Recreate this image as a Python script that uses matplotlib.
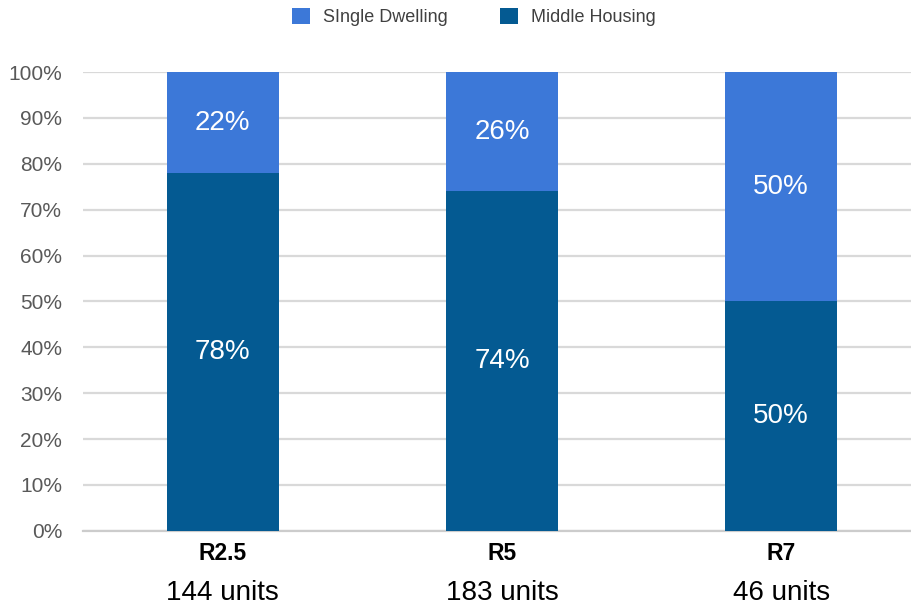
import matplotlib.pyplot as plt
from matplotlib.patches import Patch
import numpy as np

plt.rcParams['font.family'] = ['Liberation Sans', 'DejaVu Sans']

# zoning categories and their unit counts
zones = ['R2.5', 'R5', 'R7']
units = ['144 units', '183 units', '46 units']

# share of units by type (percent)
middle_housing = [78, 74, 50]
single_dwelling = [22, 26, 50]

light_blue = '#3c78d8'
dark_blue = '#045a92'
grid_grey = '#d9d9d9'

fig = plt.figure(figsize=(9.11, 6.06), dpi=100)
ax = fig.add_axes([0.091, 0.124, 0.909, 0.757])

x = np.arange(len(zones))
width = 0.4

ax.bar(x, middle_housing, width, color=dark_blue, zorder=3)
ax.bar(x, single_dwelling, width, bottom=middle_housing, color=light_blue, zorder=3)

# percentage labels in the middle of each segment
for i in range(len(zones)):
    ax.text(x[i], middle_housing[i] / 2, f'{middle_housing[i]}%', color='white',
            fontsize=20, ha='center', va='center', zorder=4)
    ax.text(x[i], middle_housing[i] + single_dwelling[i] / 2, f'{single_dwelling[i]}%',
            color='white', fontsize=20, ha='center', va='center', zorder=4)

ax.set_ylim(0, 100)
ax.set_xlim(-0.501, 2.465)
ax.set_yticks(np.arange(0, 101, 10))
ax.set_yticklabels([f'{v}%' for v in range(0, 101, 10)])
ax.tick_params(axis='y', length=0, pad=15, labelsize=15, labelcolor='#595959')
ax.set_xticks(x)
ax.set_xticklabels([])
ax.tick_params(axis='x', length=0)

ax.yaxis.grid(True, color=grid_grey, linewidth=1.6, zorder=0)
for side in ['left', 'right', 'top']:
    ax.spines[side].set_visible(False)
ax.spines['bottom'].set_color('#cccccc')
ax.spines['bottom'].set_linewidth(1.6)
ax.spines['bottom'].set_zorder(2)

# two-line category labels under the bars
trans = ax.get_xaxis_transform()
for i in range(len(zones)):
    ax.text(x[i], -0.05, zones[i], transform=trans, ha='center', va='center',
            fontsize=16.5, fontweight='bold', color='black')
    ax.text(x[i], -0.135, units[i], transform=trans, ha='center', va='center',
            fontsize=20, color='black')

handles = [Patch(facecolor=light_blue, label='SIngle Dwelling'),
           Patch(facecolor=dark_blue, label='Middle Housing')]
fig.legend(handles=handles, loc='center', bbox_to_anchor=(0.52, 0.972), ncol=2,
           frameon=False, fontsize=13, handlelength=1.0, handleheight=1.0,
           handletextpad=0.7, columnspacing=2.9, labelcolor='#404040')

fig.savefig('out.png', dpi=100)
